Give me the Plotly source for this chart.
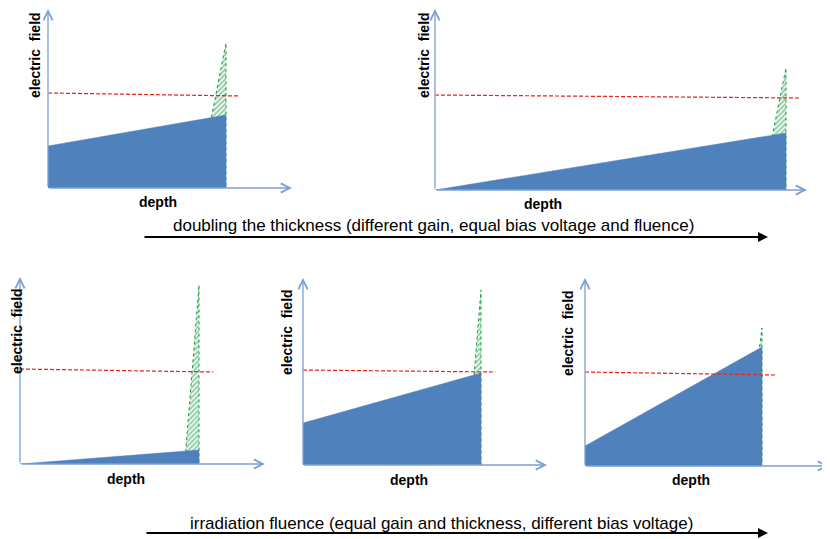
"""Electric field profiles in a thin sensor: thickness and fluence sketches."""

import plotly.graph_objects as go

W, H = 830, 539
PAGE_MARGIN = 8  # the html body margin shifts the figure by this much

# one entry per panel: top-left, top-right, bottom-left, bottom-middle, bottom-right
# depth in um, field in arbitrary units
thickness = [50, 100, 50, 50, 50]
bulk_field_front = [0.42, 0.00, 0.00, 0.42, 0.20]
bulk_field_back = [0.73, 0.57, 0.14, 0.92, 1.19]
gain_start = [42, 93, 46, 46, 45]
gain_peak = [1.45, 1.22, 1.79, 1.75, 1.38]
threshold_front = [0.95, 0.95, 0.95, 0.95, 0.94]
threshold_back = [0.92, 0.92, 0.92, 0.93, 0.91]
threshold_end = [54, 104, 54, 54, 54]

x_label = "depth"
y_label = "electric&nbsp; field"
captions = [
    "doubling the thickness (different gain, equal bias voltage and fluence)",
    "irradiation fluence (equal gain and thickness, different bias voltage)",
]

# panel placement in pixels: origin x, origin y, x-axis length, y-axis length, px per um
panels = [
    (48, 188, 244, 186, 3.56),
    (435, 190, 372, 187, 3.51),
    (20, 464, 245, 187, 3.58),
    (303, 465, 244, 187, 3.56),
    (585, 466, 244, 188, 3.54),
]
PX_PER_FIELD = 100
# label centres in pixels: (depth x, depth y, field x, field y)
label_pos = [
    (158, 202, 35, 55),
    (543, 204, 424, 55),
    (126, 479, 17, 331),
    (409, 480, 287, 332),
    (691, 480, 568, 333),
]

BLUE = "#4F81BD"
AXIS = "#7BA0D4"
GREEN = "#1A9A44"
RED = "#E3231C"
FONT = "Liberation Sans"


def px(x):
    return min(max((x - PAGE_MARGIN) / W, 0), 1)


def py(y):
    return min(max(1 - (y - PAGE_MARGIN) / H, 0), 1)


fig = go.Figure()
annotations = []
layout = {}

for i, (ox, oy, lx, ly, sx) in enumerate(panels):
    n = "" if i == 0 else str(i + 1)
    xa, ya = "x" + n, "y" + n
    # keep the arrowheads inside the drawable page
    ly = min(ly, oy - PAGE_MARGIN - 1)
    lx = min(lx, W + PAGE_MARGIN - ox - 1)
    xmax = lx / sx
    ymax = ly / PX_PER_FIELD
    T = thickness[i]

    fig.add_trace(go.Scatter(
        x=[gain_start[i], T, T, gain_start[i]], y=[0, gain_peak[i], 0, 0],
        xaxis=xa, yaxis=ya, mode="lines", fill="toself",
        fillcolor="white",
        fillpattern=dict(shape="/", fgcolor=GREEN, bgcolor="white", size=3.5, solidity=0.55),
        line=dict(color=GREEN, width=1, dash="dot"), hoverinfo="skip", showlegend=False,
    ))
    fig.add_trace(go.Scatter(
        x=[0, 0, T, T, 0], y=[0, bulk_field_front[i], bulk_field_back[i], 0, 0],
        xaxis=xa, yaxis=ya, mode="lines", fill="toself", fillcolor=BLUE,
        line=dict(color=BLUE, width=0.5), hoverinfo="skip", showlegend=False,
    ))
    fig.add_trace(go.Scatter(
        x=[0, threshold_end[i]], y=[threshold_front[i], threshold_back[i]],
        xaxis=xa, yaxis=ya, mode="lines",
        line=dict(color=RED, width=1.2, dash="4px,2px"), hoverinfo="skip", showlegend=False,
    ))

    ax_common = dict(showgrid=False, zeroline=False, showticklabels=False,
                     showline=False, ticks="", fixedrange=True)
    layout["xaxis" + n] = dict(ax_common, range=[0, xmax],
                               domain=[px(ox), px(ox + lx)], anchor=ya)
    layout["yaxis" + n] = dict(ax_common, range=[0, ymax],
                               domain=[py(oy), py(oy - ly)], anchor=xa)

    # axis arrows
    for hx, hy in [(xmax, 0), (0, ymax)]:
        annotations.append(dict(
            x=hx, y=hy, ax=0, ay=0, xref=xa, yref=ya, axref=xa, ayref=ya,
            text="", showarrow=True, arrowhead=5, arrowsize=1.4, arrowwidth=1.3,
            arrowcolor=AXIS,
        ))

    dx, dy, fx, fy = label_pos[i]
    annotations.append(dict(
        x=px(dx), y=py(dy), xref="paper", yref="paper", text=x_label,
        xanchor="center", yanchor="middle",
        showarrow=False, font=dict(family=FONT, size=14, color="black", weight="bold"),
    ))
    annotations.append(dict(
        x=px(fx), y=py(fy), xref="paper", yref="paper", text=y_label, textangle=-90,
        xanchor="center", yanchor="middle",
        showarrow=False, font=dict(family=FONT, size=14, color="black", weight="bold"),
    ))

# process arrows with captions
for (x0, x1, y, cx, cy), txt in zip([(143, 768, 237, 433, 226), (145, 768, 533, 441, 523)], captions):
    annotations.append(dict(
        x=px(x1), y=py(y), xref="paper", yref="paper", ax=x0 - x1, ay=0,
        text="", showarrow=True, arrowhead=2, arrowsize=1, arrowwidth=2, arrowcolor="black",
    ))
    annotations.append(dict(
        x=px(cx), y=py(cy), xref="paper", yref="paper", text=txt,
        xanchor="center", yanchor="middle",
        showarrow=False, font=dict(family=FONT, size=17, color="black"),
    ))

fig.update_layout(
    width=W, height=H, autosize=False,
    margin=dict(l=0, r=0, t=0, b=0),
    paper_bgcolor="white", plot_bgcolor="white",
    annotations=annotations,
    **layout,
)

fig.write_html("out.html")
